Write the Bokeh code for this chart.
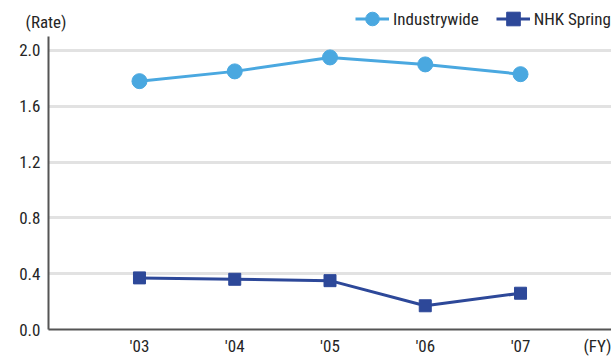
from bokeh.plotting import figure
from bokeh.layouts import column
from bokeh.models import Range1d, FixedTicker, Legend, LegendItem
from bokeh.embed import file_html
from bokeh.resources import INLINE

years = ["'03", "'04", "'05", "'06", "'07"]
industrywide = [1.78, 1.85, 1.95, 1.90, 1.83]
nhk_spring = [0.37, 0.36, 0.35, 0.17, 0.26]
y_ticks = [0.0, 0.4, 0.8, 1.2, 1.6, 2.0]
series_names = ["Industrywide", "NHK Spring"]
y_unit = "(Rate)"
x_unit = "(FY)"

FONT = "'Liberation Sans Narrow', 'Roboto Condensed', 'Arial Narrow', sans-serif"
TXT = "#252525"
LIGHT = "#4aa8e0"
DARK = "#2d4899"
FS = "17px"
NAN = float("nan")

xs = list(range(len(years)))

# ---- header strip: unit label (as a y-axis label) and legend ----
head = figure(width=611, height=36, output_backend="svg", toolbar_location=None,
              x_axis_location=None, y_axis_location="left",
              x_range=Range1d(0, 563), y_range=Range1d(0, 36),
              min_border=0, min_border_left=48, min_border_right=0,
              min_border_top=0, min_border_bottom=0)
head.outline_line_color = None
head.grid.visible = False
hy = head.yaxis[0]
hy.ticker = FixedTicker(ticks=[15])
hy.major_label_overrides = {15: y_unit}
hy.axis_line_color = None
hy.major_tick_line_color = None
hy.minor_tick_line_color = None
hy.major_tick_out = 0
hy.major_tick_in = 0
hy.minor_tick_out = 0
hy.minor_tick_in = 0
hy.major_label_standoff = -18
hy.major_label_text_font = FONT
hy.major_label_text_font_size = FS
hy.major_label_text_color = TXT

hl1 = head.line([NAN, NAN], [NAN, NAN], line_color=LIGHT, line_width=3)
hs1 = head.scatter([NAN], [NAN], marker="circle", fill_color=LIGHT, line_color=LIGHT)
hl2 = head.line([NAN, NAN], [NAN, NAN], line_color=DARK, line_width=3)
hs2 = head.scatter([NAN], [NAN], marker="square", fill_color=DARK, line_color=DARK)
legend = Legend(items=[LegendItem(label=series_names[0], renderers=[hl1, hs1]),
                       LegendItem(label=series_names[1], renderers=[hl2, hs2])],
                location=(307, -1), orientation="horizontal",
                padding=0, margin=0, spacing=17, glyph_width=34, glyph_height=37,
                label_height=20, label_standoff=4,
                label_text_font=FONT, label_text_font_size=FS, label_text_color=TXT,
                border_line_color=None, background_fill_alpha=0)
head.add_layout(legend, "center")

# ---- main chart ----
p = figure(frame_width=563, frame_height=293, output_backend="svg", toolbar_location=None,
           x_range=Range1d(-0.955, 4.955), y_range=Range1d(0, 2.1),
           min_border_left=48, min_border_right=0, min_border_top=0, min_border_bottom=0)
p.outline_line_color = None
p.background_fill_color = "white"

p.xgrid.visible = False
p.ygrid.ticker = FixedTicker(ticks=y_ticks[1:])
p.ygrid.grid_line_color = "#e2e2e2"
p.ygrid.grid_line_width = 3

p.yaxis.ticker = FixedTicker(ticks=y_ticks)
p.yaxis.major_label_overrides = {t: f"{t:.1f}" for t in y_ticks}
fy_pos = 4.85
p.xaxis.ticker = FixedTicker(ticks=xs + [fy_pos])
overrides = {i: y for i, y in enumerate(years)}
overrides[fy_pos] = x_unit
p.xaxis.major_label_overrides = overrides

for ax in (p.xaxis[0], p.yaxis[0]):
    ax.axis_line_color = "#555555"
    ax.axis_line_width = 2
    ax.major_tick_out = 0
    ax.major_tick_in = 0
    ax.minor_tick_out = 0
    ax.minor_tick_in = 0
    ax.major_tick_line_color = None
    ax.minor_tick_line_color = None
    ax.major_label_text_font = FONT
    ax.major_label_text_font_size = FS
    ax.major_label_text_color = TXT
p.xaxis.major_label_standoff = 6
p.yaxis.major_label_standoff = 8

p.line(xs, industrywide, line_color=LIGHT, line_width=3)
p.scatter(xs, industrywide, marker="circle", size=15, fill_color=LIGHT, line_color=LIGHT)
p.line(xs, nhk_spring, line_color=DARK, line_width=3)
p.scatter(xs, nhk_spring, marker="square", size=12, fill_color=DARK, line_color=DARK)

layout = column(head, p, spacing=0)
open("out.html", "w").write(file_html(layout, INLINE))
